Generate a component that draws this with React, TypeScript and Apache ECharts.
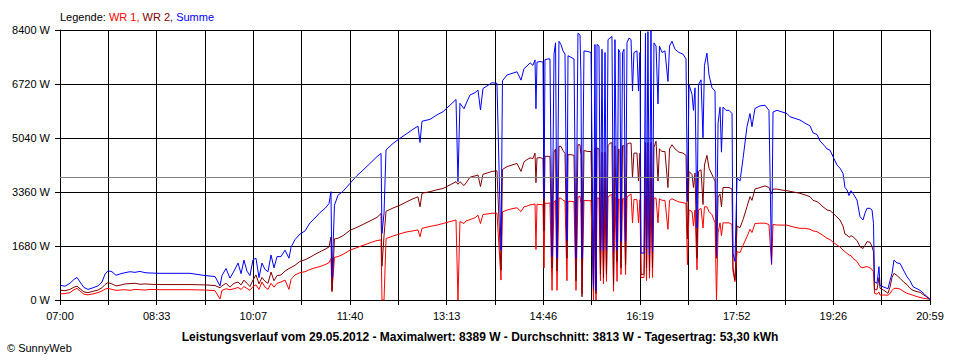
import React, { useEffect, useRef } from "react";
import * as echarts from "echarts";

// minutes after 07:00
const minutes = [
  0, 4.8, 9.6, 13.5, 16.4, 19.3, 23.1, 27.0, 31.8, 36.6, 40.5, 43.4, 46.3, 50.1, 54.0, 57.9, 62.7, 67.5, 72.3, 77.1,
  82.0, 86.8, 96.4, 110.9, 125.4, 139.8, 149.5, 154.3, 156.2, 160.1, 163.9, 167.8, 171.7, 174.6, 177.4, 180.3, 183.2, 186.1, 189.0, 191.9,
  194.8, 197.7, 200.6, 203.5, 206.4, 209.3, 213.1, 217.0, 220.8, 222.8, 226.6, 231.4, 236.3, 241.1, 245.9, 250.7, 255.6, 259.4, 261.3, 262.3,
  264.7, 268.1, 272.9, 279.7, 286.4, 292.2, 299.0, 305.7, 309.6, 310.5, 312.5, 314.4, 321.1, 327.9, 334.6, 340.4, 345.2, 347.2, 349.1, 356.8,
  363.6, 369.4, 376.1, 381.9, 383.8, 385.7, 389.6, 391.5, 395.4, 400.2, 403.1, 405.5, 407.9, 412.8, 416.6, 421.4, 425.3, 426.7, 431.1, 435.9,
  440.7, 444.6, 447.5, 450.4, 453.3, 456.1, 458.1, 459.0, 460.0, 462.9, 465.8, 466.8, 467.7, 470.6, 472.5, 474.5, 476.4, 477.9, 479.3, 481.2,
  483.1, 485.1, 487.0, 488.9, 489.9, 492.8, 495.7, 497.6, 499.5, 501.5, 502.4, 503.4, 505.3, 509.2, 512.1, 514.5, 515.9, 516.9, 517.9, 519.8,
  521.2, 522.7, 524.1, 525.6, 527.0, 528.5, 530.4, 532.3, 533.8, 535.2, 537.2, 538.6, 540.0, 541.0, 542.5, 543.9, 545.4, 546.8, 548.7, 550.7,
  552.1, 553.5, 556.4, 557.9, 559.3, 560.3, 563.2, 564.6, 565.6, 567.0, 568.5, 569.9, 571.4, 572.8, 574.8, 576.7, 578.1, 580.6, 583.4, 586.3,
  587.8, 590.2, 593.1, 596.9, 600.8, 603.7, 605.1, 606.6, 609.5, 610.9, 612.4, 614.3, 615.7, 618.2, 620.1, 621.5, 623.9, 625.9, 628.8, 631.7,
  633.1, 634.6, 636.5, 637.9, 639.4, 642.3, 645.2, 648.1, 649.0, 650.9, 652.9, 655.8, 658.7, 662.5, 665.4, 667.3, 670.2, 675.1, 679.9, 683.7,
  686.2, 687.6, 691.5, 696.3, 701.1, 704.0, 708.8, 713.6, 718.5, 723.3, 726.2, 730.0, 732.9, 735.8, 739.7, 742.6, 745.5, 749.3, 752.2, 755.1,
  757.0, 759.0, 760.9, 762.8, 764.7, 768.6, 771.5, 774.4, 776.3, 778.2, 781.1, 783.1, 784.5, 785.5, 787.9, 789.8, 790.8, 794.6, 798.5, 800.4,
  802.4, 804.3, 807.2, 810.1, 813.9, 816.8, 819.7, 822.6, 826.5, 829.4, 833.2, 836.1, 839.0,
];

const wr1 = [
  190, 200, 230, 320, 360, 280, 180, 160, 190, 230, 280, 340, 360, 330, 300, 310, 320, 300, 330, 320,
  310, 330, 320, 320, 320, 310, 290, 30, 300, 350, 320, 350, 390, 330, 420, 360, 300, 420, 470, 330,
  560, 400, 330, 520, 400, 520, 560, 620, 330, 640, 780, 850, 880, 950, 1000, 1040, 1100, 1160, 1290, 300,
  1330, 1350, 1420, 1550, 1630, 1700, 1780, 1850, 1870, 0, 0, 1910, 1990, 2060, 2120, 2150, 2180, 1970, 2230, 2290,
  2330, 2380, 2440, 2490, 0, 2440, 2380, 2460, 2500, 2560, 2640, 2380, 2660, 2680, 2700, 2700, 620, 2740, 2800, 2840,
  2870, 2750, 2900, 2920, 2960, 2970, 2990, 1570, 2980, 2970, 2960, 1000, 3010, 3010, 3020, 300, 3050, 3100, 300, 3170,
  3170, 3100, 3080, 600, 3070, 3070, 3060, 300, 3200, 3230, 3000, 200, 3100, 3090, 3090, 0, 3170, 0, 3170, 3170,
  600, 3100, 500, 3100, 580, 3200, 3260, 3280, 270, 3200, 580, 3150, 3100, 790, 3150, 3150, 790, 3200, 3250, 3300,
  2400, 3130, 3120, 2400, 3120, 700, 700, 3250, 600, 3250, 680, 3250, 700, 3170, 3170, 2400, 3150, 3100, 3100, 2200,
  3100, 3150, 3100, 3050, 3030, 3000, 1100, 2800, 2750, 2300, 2800, 940, 2800, 2850, 2240, 2900, 2900, 2750, 2650, 2400,
  0, 2100, 2400, 2000, 2400, 2400, 2400, 2350, 900, 570, 1500, 1480, 1700, 1970, 2200, 2100, 2380, 2390, 2390, 2350,
  1100, 2350, 2333, 2330, 2330, 2300, 2260, 2230, 2230, 2200, 2150, 2126, 2070, 2010, 1918, 1880, 1800, 1711, 1650, 1555,
  1500, 1450, 1400, 1380, 1296, 1200, 1037, 1000, 1030, 1037, 1000, 950, 880, 210, 180, 250, 155, 155, 150, 200,
  300, 363, 363, 340, 260, 207, 180, 150, 104, 80, 50, 40, 20,
];

const wr2 = [
  300, 290, 330, 400, 430, 350, 250, 230, 270, 310, 380, 480, 540, 500, 440, 460, 500, 510, 520, 490,
  500, 490, 480, 480, 480, 470, 450, 380, 440, 520, 400, 520, 560, 470, 620, 520, 420, 620, 780, 500,
  700, 580, 520, 870, 600, 760, 780, 900, 980, 1010, 1080, 1200, 1250, 1330, 1420, 1500, 1580, 1650, 1960, 260,
  1900, 1920, 2000, 2170, 2260, 2350, 2460, 2570, 2690, 1050, 2000, 2760, 2860, 2950, 3060, 3150, 3210, 2900, 3320, 3370,
  3430, 3470, 3580, 3680, 3600, 3680, 3560, 3640, 3820, 3860, 3890, 3530, 3910, 3960, 4000, 4020, 930, 4060, 4150, 4200,
  4250, 4000, 4300, 4370, 4420, 4400, 4570, 3650, 4420, 4430, 4400, 2140, 4470, 4470, 4470, 1000, 4600, 4700, 900, 4780,
  4780, 4650, 4560, 1300, 4520, 4520, 4500, 600, 4830, 4830, 4500, 100, 4650, 4620, 4620, 300, 4730, 200, 4730, 4700,
  800, 4600, 700, 4600, 800, 4800, 4880, 4890, 480, 4800, 1200, 4700, 4650, 1000, 4800, 4800, 1100, 4850, 4880, 4880,
  3800, 4570, 4570, 3700, 4570, 800, 800, 4900, 1000, 4900, 900, 4900, 1000, 4750, 4940, 3700, 4700, 4620, 4620, 3500,
  4700, 4830, 4700, 4600, 4570, 4500, 1900, 4000, 3900, 3500, 3950, 1300, 4000, 4050, 2970, 4200, 4500, 4100, 3900, 3700,
  1300, 3200, 3300, 2900, 3500, 3500, 3500, 3450, 1000, 620, 2300, 2250, 2500, 2900, 3215, 3100, 3450, 3500, 3550, 3500,
  3300, 3450, 3450, 3420, 3400, 3380, 3350, 3320, 3270, 3215, 3100, 3060, 2990, 2900, 2800, 2780, 2700, 2580, 2489, 2300,
  2050, 2022, 1950, 2000, 1970, 1850, 1660, 1600, 1700, 1815, 1800, 1660, 1500, 320, 320, 700, 363, 300, 207, 400,
  700, 830, 760, 674, 550, 480, 363, 300, 259, 240, 150, 90, 20,
];

const summe = [
  460, 430, 520, 640, 700, 560, 390, 330, 380, 440, 560, 800, 910, 880, 770, 810, 850, 880, 860, 890,
  850, 840, 830, 830, 830, 760, 730, 440, 760, 980, 680, 900, 1150, 820, 1240, 900, 760, 1250, 1300, 700,
  1150, 950, 880, 1400, 1000, 1350, 1350, 1550, 1300, 1640, 1880, 2050, 2150, 2400, 2550, 2720, 2850, 3000, 3370, 700,
  2950, 3260, 3380, 3630, 3870, 4040, 4250, 4460, 4560, 2070, 2700, 4670, 4870, 5030, 5180, 5310, 5410, 4900, 5560, 5620,
  5760, 5860, 6060, 6240, 3680, 6120, 5950, 6100, 6380, 6450, 6530, 5910, 6580, 6680, 6760, 6740, 1550, 6820, 7000, 7050,
  7100, 6840, 7200, 7280, 7380, 7300, 7470, 5950, 7400, 7420, 7400, 3150, 7480, 7500, 7500, 1350, 7650, 8000, 1300, 8050,
  7950, 7750, 7650, 1850, 7600, 7550, 7500, 1300, 8300, 8250, 6900, 1300, 7750, 7730, 7700, 400, 7950, 300, 7950, 7900,
  1550, 7800, 1550, 7700, 1550, 8100, 8150, 8200, 1500, 8100, 1560, 7800, 7700, 1820, 7700, 7800, 1820, 8000, 8150, 8100,
  6500, 7700, 7750, 6500, 7700, 1460, 1460, 8300, 1600, 8350, 1400, 8389, 1500, 8000, 7900, 6100, 7900, 7700, 7750, 6800,
  7900, 8050, 7800, 7700, 7650, 7500, 3070, 6700, 6400, 5900, 6600, 2240, 6700, 6850, 5050, 7300, 7680, 7000, 6600, 6500,
  1350, 5500, 6000, 4600, 6000, 5900, 5900, 5800, 1450, 1200, 3800, 3700, 4400, 5390, 5800, 5390, 5960, 6040, 6060, 5900,
  1140, 5850, 5900, 5850, 5800, 5700, 5650, 5600, 5500, 5420, 5200, 5150, 4950, 4850, 4700, 4660, 4460, 4200, 4100, 3940,
  3500, 3420, 3250, 3400, 3318, 3111, 2593, 2489, 2700, 2852, 2852, 2800, 2385, 570, 520, 1037, 450, 400, 350, 600,
  830, 1244, 1150, 1140, 900, 726, 600, 415, 350, 300, 200, 104, 20,
];

const tickLabels = ["07:00", "08:33", "10:07", "11:40", "13:13", "14:46", "16:19", "17:52", "19:26", "20:59"];
const spanMinutes = 839;
const xIntervals = 18;
const yMax = 8400;
const yStep = 1680;
const averageW = 3813;
const legendParts = ["Legende: ", "WR 1, ", "WR 2, ", "Summe"];
const titleText =
  "Leistungsverlauf vom 29.05.2012 - Maximalwert: 8389 W - Durchschnitt: 3813 W - Tagesertrag: 53,30 kWh";
const creditText = "© SunnyWeb";

const FONT = "'Liberation Sans', Arial, sans-serif";

export default function App() {
  const ref = useRef<HTMLDivElement>(null);

  useEffect(() => {
    if (!ref.current) return;
    const chart = echarts.init(ref.current, null, { renderer: "svg" });
    const xStep = spanMinutes / xIntervals;
    const pair = (vals: number[]) => minutes.map((m, i) => [m, vals[i]]);
    const lineSeries = (name: string, vals: number[], color: string, extra: any = {}) => ({
      name,
      type: "line",
      data: pair(vals),
      showSymbol: false,
      symbol: "none",
      lineStyle: { color, width: 1 },
      itemStyle: { color },
      emphasis: { disabled: true },
      silent: true,
      ...extra,
    });

    chart.setOption({
      animation: false,
      backgroundColor: "#ffffff",
      grid: { left: 60, right: 30, top: 30, bottom: 60, containLabel: false },
      xAxis: {
        type: "value",
        min: 0,
        max: spanMinutes,
        interval: xStep,
        axisLine: { show: true, lineStyle: { color: "#000", width: 1 } },
        axisTick: { show: true, length: 5, lineStyle: { color: "#000", width: 1 } },
        axisLabel: {
          color: "#000",
          fontFamily: FONT,
          fontSize: 11,
          margin: 10,
          hideOverlap: false,
          showMinLabel: true,
          showMaxLabel: true,
          formatter: (v: number) => {
            const i = Math.round(v / xStep);
            return i % 2 === 0 ? tickLabels[i / 2] ?? "" : "";
          },
        },
        splitLine: { show: true, lineStyle: { color: "#000", width: 1 } },
      },
      yAxis: {
        type: "value",
        min: 0,
        max: yMax,
        interval: yStep,
        axisLine: { show: true, lineStyle: { color: "#000", width: 1 } },
        axisTick: { show: true, length: 5, lineStyle: { color: "#000", width: 1 } },
        axisLabel: {
          color: "#000",
          fontFamily: FONT,
          fontSize: 11,
          margin: 10,
          formatter: (v: number) => `${v} W`,
        },
        splitLine: { show: true, lineStyle: { color: "#000", width: 1 } },
      },
      series: [
        lineSeries("WR 1", wr1, "#ff0000"),
        lineSeries("WR 2", wr2, "#800000"),
        lineSeries("Summe", summe, "#0000ff", {
          markLine: {
            silent: true,
            symbol: "none",
            label: { show: false },
            lineStyle: { color: "#808080", type: "solid", width: 1 },
            data: [{ yAxis: averageW }],
          },
        }),
      ],
      graphic: [
        {
          type: "text",
          x: 60,
          y: 17,
          style: {
            text: `{k|${legendParts[0]}}{a|${legendParts[1]}}{b|${legendParts[2]}}{c|${legendParts[3]}}`,
            font: `11px ${FONT}`,
            verticalAlign: "middle",
            rich: {
              k: { fill: "#000", fontSize: 11, fontFamily: FONT },
              a: { fill: "#ff0000", fontSize: 11, fontFamily: FONT },
              b: { fill: "#800000", fontSize: 11, fontFamily: FONT },
              c: { fill: "#0000ff", fontSize: 11, fontFamily: FONT },
            },
          },
        },
        {
          type: "text",
          x: 480,
          y: 337,
          style: {
            text: titleText,
            fill: "#000",
            font: `bold 12px ${FONT}`,
            align: "center",
            verticalAlign: "middle",
          },
        },
        {
          type: "text",
          x: 7,
          y: 348,
          style: {
            text: creditText,
            fill: "#000",
            font: `11px ${FONT}`,
            verticalAlign: "middle",
          },
        },
      ],
    });
    return () => chart.dispose();
  }, []);

  return (
    <div
      ref={ref}
      style={{ position: "fixed", left: 0, top: 0, width: 960, height: 360, background: "#fff" }}
    />
  );
}
